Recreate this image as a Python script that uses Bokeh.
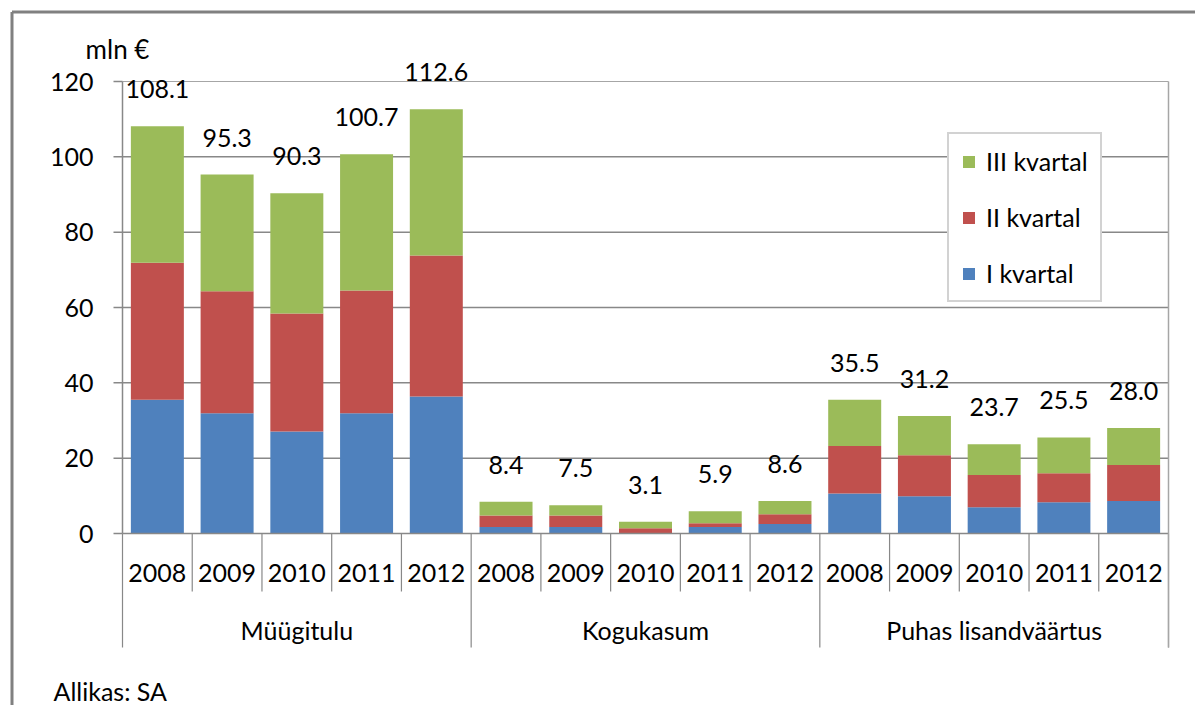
from bokeh.plotting import figure
from bokeh.models import Range1d, ColumnDataSource, Legend, LegendItem
from bokeh.core.properties import value
from bokeh.embed import file_html
from bokeh.resources import INLINE

groups = ["Müügitulu", "Kogukasum", "Puhas lisandväärtus"]
years = ["2008", "2009", "2010", "2011", "2012"]
q1 = [35.5, 31.9, 27.1, 31.9, 36.4, 1.7, 1.7, 0.0, 1.7, 2.5, 10.6, 9.9, 7.0, 8.3, 8.6]
q2 = [36.4, 32.4, 31.3, 32.6, 37.4, 3.1, 3.1, 1.4, 1.0, 2.6, 12.6, 10.9, 8.5, 7.7, 9.6]
q3 = [36.2, 31.0, 31.9, 36.2, 38.8, 3.6, 2.7, 1.7, 3.2, 3.5, 12.3, 10.4, 8.2, 9.5, 9.8]
totals = [108.1, 95.3, 90.3, 100.7, 112.6, 8.4, 7.5, 3.1, 5.9, 8.6, 35.5, 31.2, 23.7, 25.5, 28.0]
y_ticks = [0, 20, 40, 60, 80, 100, 120]
series_names = ["I kvartal", "II kvartal", "III kvartal"]

FONT = value("Lato")
FS = "25px"
BLUE, RED, GREEN = "#4F81BD", "#C0504D", "#9BBB59"
GRID = "#888888"
BORDER = "#a6a6a6"

W, H = 1195, 705
OFF = 0  # page offset of the figure's top-left corner
# pixel mapping (page coords): x=0 at 122, x=15 at 1168 ; y=0 at 533, y=120 at 81
pxu = (1168 - 122) / 15.0
pyu = (533 - 81) / 120.0
x_start = (OFF - 122) / pxu
x_end = (OFF + W - 122) / pxu
y_end = (533 - OFF) / pyu
y_start = (533 - (OFF + H)) / pyu

p = figure(width=W, height=H, x_range=Range1d(x_start, x_end), y_range=Range1d(y_start, y_end),
           output_backend="svg", toolbar_location=None, x_axis_type=None, y_axis_type=None,
           min_border=0, min_border_left=0, min_border_right=0, min_border_top=0, min_border_bottom=0,
           outline_line_color=None, background_fill_color="white", border_fill_color="white")
p.grid.visible = False

n = len(totals)
xs = [i + 0.5 for i in range(n)]
b2 = [a + b for a, b in zip(q1, q2)]
b3 = [a + b for a, b in zip(b2, q3)]
src = ColumnDataSource(dict(x=xs, q1=q1, b2=b2, b3=b3, tot=totals,
                            lab=["%.1f" % t for t in totals]))

# gridlines
gl = [t for t in y_ticks if t not in (0, 120)]
p.segment(x0=[0] * len(gl), x1=[15] * len(gl), y0=gl, y1=gl, line_color=GRID, line_width=1.5)
# plot area border top/right
p.segment(x0=[0], x1=[15], y0=[120], y1=[120], line_color=BORDER, line_width=1)
tick_x0 = -9 / pxu
p.segment(x0=[tick_x0] * len(y_ticks), x1=[0] * len(y_ticks), y0=y_ticks, y1=y_ticks,
          line_color=GRID, line_width=1.5)

r1 = p.vbar(x="x", width=0.76, bottom=0, top="q1", source=src, fill_color=BLUE, line_color=None)
r2 = p.vbar(x="x", width=0.76, bottom="q1", top="b2", source=src, fill_color=RED, line_color=None)
r3 = p.vbar(x="x", width=0.76, bottom="b2", top="b3", source=src, fill_color=GREEN, line_color=None)

# axis lines
p.segment(x0=[0], x1=[15], y0=[0], y1=[0], line_color=GRID, line_width=1.5)
p.segment(x0=[0], x1=[0], y0=[0], y1=[120], line_color=GRID, line_width=1.5)

# category separators
sep_short = -58 / pyu
sep_long = -114 / pyu
small = [i for i in range(1, 15) if i % 5 != 0]
big = [0, 5, 10, 15]
p.segment(x0=small, x1=small, y0=[0] * len(small), y1=[sep_short] * len(small), line_color=GRID, line_width=1.2)
p.segment(x0=big, x1=big, y0=[0] * len(big), y1=[sep_long] * len(big), line_color=GRID, line_width=1.2)
p.segment(x0=[15], x1=[15], y0=[sep_long], y1=[120], line_color=BORDER, line_width=1.5)

# data labels
p.text(x="x", y="tot", text="lab", source=src, text_font=FONT, text_font_size=FS,
       text_align="center", text_baseline="middle", y_offset=-37, text_color="#000000")

# y tick labels
p.text(x=[-29 / pxu] * len(y_ticks), y=y_ticks, text=[str(t) for t in y_ticks], text_font=FONT,
       text_font_size=FS, text_align="right", text_baseline="middle", text_color="#000000")

# year labels
year_labels = [years[i % 5] for i in range(n)]
p.text(x=xs, y=[-39 / pyu] * n, text=year_labels, text_font=FONT, text_font_size=FS,
       text_align="center", text_baseline="middle", text_color="#000000")
# group labels
p.text(x=[2.5, 7.5, 12.5], y=[-96 / pyu] * 3, text=groups, text_font=FONT, text_font_size=FS,
       text_align="center", text_baseline="middle", text_color="#000000")

# unit label
p.text(x=[-5 / pxu], y=[(533 - 48) / pyu], text=["mln €"], text_font=FONT, text_font_size="26px",
       text_align="center", text_baseline="middle", text_color="#000000")
# source
p.text(x=[(53 - 122) / pxu], y=[(533 - 690) / pyu], text=["Allikas: SA"], text_font=FONT,
       text_font_size=FS, text_align="left", text_baseline="middle", text_color="#000000")

# outer chart border (left & top)
bx = (11.5 - 122) / pxu
by = (533 - 11.5) / pyu
p.segment(x0=[bx, bx], x1=[bx, x_end + 1], y0=[y_start - 1, by], y1=[by, by],
          line_color="#808080", line_width=3)

legend = Legend(items=[LegendItem(label=series_names[2], renderers=[r3]),
                       LegendItem(label=series_names[1], renderers=[r2]),
                       LegendItem(label=series_names[0], renderers=[r1])],
                location=(947 - OFF, OFF + H - 302), orientation="vertical",
                label_text_font="Lato", label_text_font_size="25px", label_text_color="#000000",
                glyph_width=15, glyph_height=15, label_height=28, label_standoff=10,
                spacing=26, padding=12, margin=0,
                border_line_color=BORDER, border_line_width=2,
                background_fill_color="white", background_fill_alpha=1.0)
p.add_layout(legend, "center")

open("out.html", "w").write(file_html(p, INLINE))
